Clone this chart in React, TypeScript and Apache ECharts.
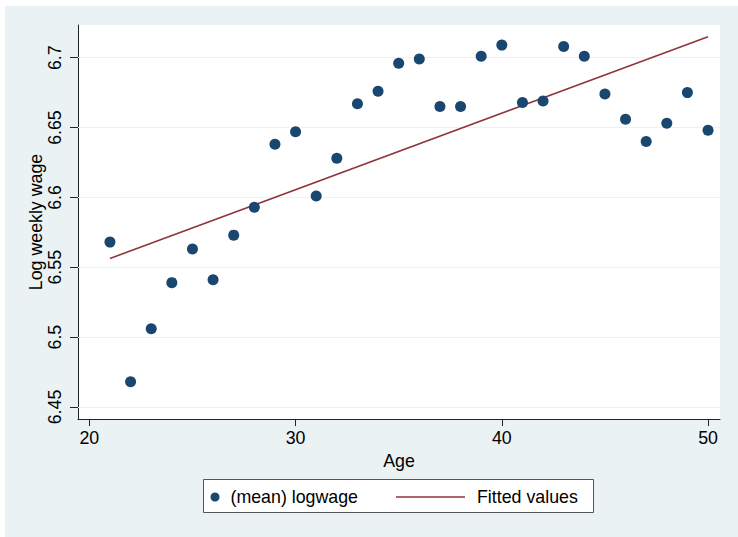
import React, { useEffect, useRef } from 'react'
import * as echarts from 'echarts'

// mean log weekly wage by age
const ages = [
  21, 22, 23, 24, 25, 26, 27, 28, 29, 30,
  31, 32, 33, 34, 35, 36, 37, 38, 39, 40,
  41, 42, 43, 44, 45, 46, 47, 48, 49, 50,
]
const meanLogwage = [
  6.568, 6.468, 6.506, 6.539, 6.563, 6.541, 6.573, 6.593, 6.638, 6.647,
  6.601, 6.628, 6.667, 6.676, 6.696, 6.699, 6.665, 6.665, 6.701, 6.709,
  6.668, 6.669, 6.708, 6.701, 6.674, 6.656, 6.640, 6.653, 6.675, 6.648,
]

// fitted line end points
const fittedAges = [21, 50]
const fittedValues = [6.5563, 6.715]

const xTicks = [20, 30, 40, 50]
const yTicks = [6.45, 6.5, 6.55, 6.6, 6.65, 6.7]

const FONT = '"Liberation Sans", Arial, Helvetica, sans-serif'
const FS = 17.8
const NAVY = '#1a476f'
const MAROON = '#90353b'
const BG = '#eaf2f3'

const App: React.FC = () => {
  const chartRef = useRef<HTMLDivElement>(null)

  useEffect(() => {
    if (!chartRef.current) return
    const chart = echarts.init(chartRef.current, undefined, { renderer: 'svg' })

    const option = {
      animation: false,
      backgroundColor: 'transparent',
      grid: {
        left: 78,
        top: 25,
        width: 642,
        height: 394,
        show: true,
        backgroundColor: '#ffffff',
        borderWidth: 0,
      },
      xAxis: {
        type: 'value',
        min: 19.45,
        max: 50.58,
        name: 'Age',
        nameLocation: 'middle',
        nameGap: 33,
        nameMoveOverlap: false,
        nameTextStyle: { fontSize: FS, color: '#000', fontFamily: FONT },
        axisLine: { onZero: false, lineStyle: { color: '#222', width: 1 } },
        axisTick: { show: true, length: 7, customValues: xTicks, lineStyle: { color: '#222' } },
        axisLabel: { customValues: xTicks, margin: 10, fontSize: FS, color: '#000', fontFamily: FONT },
        splitLine: { show: false },
      },
      yAxis: {
        type: 'value',
        min: 6.4414,
        max: 6.7234,
        name: 'Log weekly wage',
        nameLocation: 'middle',
        nameGap: 33,
        nameMoveOverlap: false,
        nameTextStyle: { fontSize: FS, color: '#000', fontFamily: FONT },
        axisLine: { onZero: false, lineStyle: { color: '#222', width: 1 } },
        axisTick: { show: true, length: 8, customValues: yTicks, lineStyle: { color: '#222' } },
        axisLabel: {
          customValues: yTicks,
          rotate: 90,
          margin: 14,
          fontSize: FS,
          color: '#000',
          fontFamily: FONT,
        },
        splitLine: { show: false },
      },
      legend: [
        {
          data: ['(mean) logwage'],
          left: 210.5,
          top: 488,
          padding: 0,
          itemWidth: 21,
          itemHeight: 9,
          icon: 'circle',
          selectedMode: false,
          itemStyle: { color: NAVY, opacity: 1 },
          textStyle: { fontSize: FS, color: '#000', fontFamily: FONT },
        },
        {
          data: ['Fitted values'],
          left: 396,
          top: 488,
          padding: 0,
          itemWidth: 69,
          itemHeight: 9,
          icon: 'path://M0 0H69V1.6H0Z',
          selectedMode: false,
          itemStyle: { color: MAROON },
          textStyle: { fontSize: FS, color: '#000', fontFamily: FONT, padding: [0, 0, 0, 7] },
        },
      ],
      graphic: [
        {
          type: 'rect',
          z: 1,
          shape: { x: 203.5, y: 479.5, width: 390, height: 33 },
          style: { fill: '#ffffff', stroke: '#555555', lineWidth: 1 },
        },
      ],
      series: [
        {
          name: '(mean) logwage',
          type: 'scatter',
          data: ages.map((a, i) => [a, meanLogwage[i]]),
          symbolSize: 11,
          itemStyle: { color: NAVY, opacity: 1 },
          z: 3,
          markLine: {
            silent: true,
            symbol: 'none',
            z: 1,
            label: { show: false },
            lineStyle: { color: BG, width: 1.2, type: 'solid' },
            data: yTicks.map((v) => ({ yAxis: v })),
          },
        },
        {
          name: 'Fitted values',
          type: 'line',
          data: fittedAges.map((a, i) => [a, fittedValues[i]]),
          symbol: 'none',
          showSymbol: false,
          lineStyle: { color: MAROON, width: 1.6 },
          itemStyle: { color: MAROON },
          z: 2,
        },
      ],
    }

    chart.setOption(option)

    return () => {
      chart.dispose()
    }
  }, [])

  return (
    <div style={{ position: 'fixed', left: 0, top: 0, width: 738, height: 537, background: '#ffffff' }}>
      <div style={{ position: 'absolute', left: 5, top: 6, right: 0, bottom: 0, background: BG }} />
      <div ref={chartRef} style={{ position: 'absolute', left: 0, top: 0, width: 738, height: 537 }} />
    </div>
  )
}

export default App
